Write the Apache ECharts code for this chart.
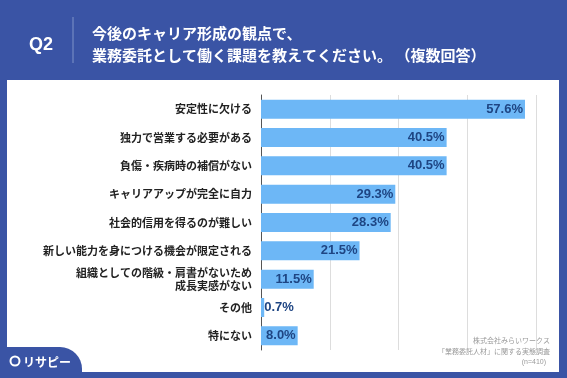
<!DOCTYPE html>
<html><head><meta charset="utf-8">
<script src="https://cdn.jsdelivr.net/npm/echarts@6/dist/echarts.min.js"></script>
<style>html,body{margin:0;padding:0;background:#3a54a5;}#c{width:567px;height:378px;}</style>
</head><body><div id="c"></div>
<script>
var categories = ['安定性に欠ける','独力で営業する必要がある','負傷・疾病時の補償がない','キャリアアップが完全に自力','社会的信用を得るのが難しい','新しい能力を身につける機会が限定される','組織としての階級・肩書がないため\n成長実感がない','その他','特にない'];
var values = [57.6, 40.5, 40.5, 29.3, 28.3, 21.5, 11.5, 0.7, 8.0];
var xTicks = [0, 15, 30, 45, 60];
var titleLines = ['今後のキャリア形成の観点で、','業務委託として働く課題を教えてください。 （複数回答）'];
var sourceLines = ['株式会社みらいワークス','「業務委託人材」に関する実態調査','(n=410)'];

var JP = '"Noto Sans CJK JP", sans-serif';
var NUM = '"Liberation Sans", "Noto Sans CJK JP", sans-serif';
var chart = echarts.init(document.getElementById('c'));
var barData = values.map(function(v){
  var d = {value: v};
  if (v < 5) d.label = {position: 'right', distance: 0};
  return d;
});
chart.setOption({
  backgroundColor: '#3a54a5',
  animation: false,
  graphic: [
    {type:'rect', z:0, shape:{x:7,y:80,width:552,height:292}, style:{fill:'#ffffff'}},
    {type:'rect', z:1, shape:{x:0,y:347,width:82,height:31,r:[0,22,0,0]}, style:{fill:'#3a54a5'}},
    {type:'text', z:2, style:{x:41,y:45,text:'Q2',fill:'#ffffff',font:'bold 18px '+NUM,textAlign:'center',textVerticalAlign:'middle'}},
    {type:'line', z:2, shape:{x1:73,y1:17,x2:73,y2:63}, style:{stroke:'#7f93c8',lineWidth:1}},
    {type:'text', z:2, style:{x:92,y:33,text:titleLines[0],fill:'#ffffff',font:'bold 15px '+JP,textVerticalAlign:'middle'}},
    {type:'text', z:2, style:{x:92,y:55,text:titleLines[1],fill:'#ffffff',font:'bold 15px '+JP,textVerticalAlign:'middle'}},
    {type:'circle', z:2, shape:{cx:15,cy:361,r:4.5}, style:{fill:'none',stroke:'#ffffff',lineWidth:2}},
    {type:'text', z:2, style:{x:23,y:362,text:'リサピー',fill:'#ffffff',font:'bold 12px '+JP,textVerticalAlign:'middle'}},
    {type:'text', z:2, style:{x:550,y:340,text:sourceLines[0],fill:'#9a9a9a',font:'7px '+JP,textAlign:'right',textVerticalAlign:'middle'}},
    {type:'text', z:2, style:{x:550,y:351,text:sourceLines[1],fill:'#9a9a9a',font:'7px '+JP,textAlign:'right',textVerticalAlign:'middle'}},
    {type:'text', z:2, style:{x:546,y:362,text:sourceLines[2],fill:'#9a9a9a',font:'7px '+NUM,textAlign:'right',textVerticalAlign:'middle'}}
  ],
  grid: {left:261, right:31, top:95, bottom:28, containLabel:false},
  xAxis: {
    type:'value', min:xTicks[0], max:xTicks[xTicks.length-1], interval:xTicks[1]-xTicks[0],
    axisLabel:{show:false}, axisTick:{show:false}, axisLine:{show:false},
    splitLine:{lineStyle:{color:'#dddddd',width:1}}
  },
  yAxis: {
    type:'category', data:categories, inverse:true,
    axisTick:{show:false},
    axisLine:{lineStyle:{color:'#555555',width:1}},
    axisLabel:{color:'#222222', fontSize:11, fontWeight:'bold', fontFamily:JP, margin:9, lineHeight:13, align:'right'}
  },
  series: [{
    type:'bar', data:barData, barCategoryGap:'33%',
    itemStyle:{color:'#6db7f6'},
    label:{show:true, position:'insideRight', distance:2, formatter:function(p){return p.value.toFixed(1)+'%';},
      color:'#1e4583', fontSize:13, fontWeight:'bold', fontFamily:NUM}
  }]
});
</script></body></html>
